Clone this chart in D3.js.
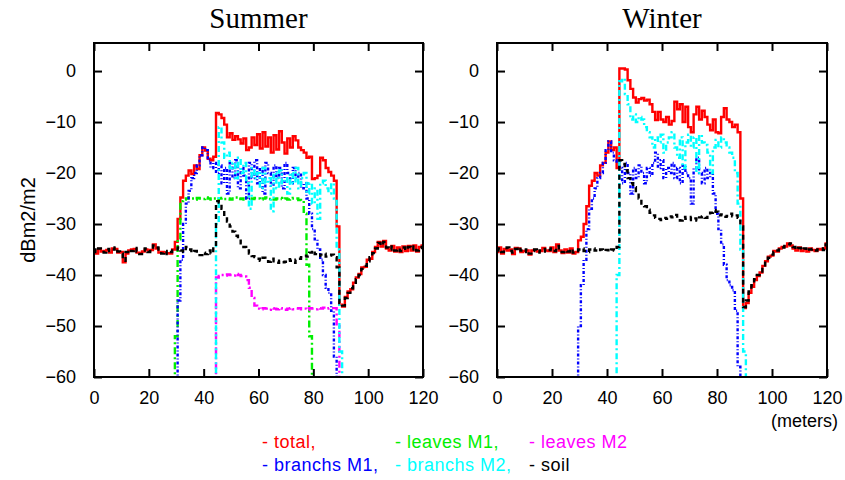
<!DOCTYPE html>
<html><head><meta charset="utf-8">
<script src="https://cdn.jsdelivr.net/npm/d3@7"></script>
<style>body{margin:0;background:#fff}svg{display:block}text{font-family:"Liberation Sans",Arial,sans-serif}</style>
</head><body>
<svg id="c" width="845" height="480"></svg>
<script>
// ---------------- DATA ----------------
const panelTitles = ["Summer", "Winter"];
const xTicks = [0, 20, 40, 60, 80, 100, 120];
const yTicks = [0, -10, -20, -30, -40, -50, -60];
const seriesNames = ["total", "leaves M1", "leaves M2", "branchs M1", "branchs M2", "soil"];
const legendLabels = ["- total,", "- leaves M1,", "- leaves M2", "- branchs M1,", "- branchs M2,", "- soil"];
const seriesColors = ["#ff0000", "#00ee00", "#ff00ff", "#0000ff", "#00ffff", "#000000"];

// Summer, x = 0..120 step 1
const sumTotal = [
 -35.2,-35.8,-34.9,-35.4,-35.3,-35.1,-35.6,-34.8,-34.9,-35.6,
 -35.5,-37.5,-35.8,-35.2,-35.0,-34.9,-35.6,-35.7,-35.4,-35.0,
 -35.2,-35.1,-34.0,-34.8,-35.6,-35.5,-35.6,-35.7,-35.8,-35.0,
 -33.5,-29.0,-24.8,-21.5,-20.5,-19.5,-20.2,-18.5,-19.2,-16.5,
 -15.0,-15.6,-17.2,-17.5,-16.8,-8.2,-8.5,-9.2,-10.5,-13.0,
 -12.2,-13.5,-12.8,-13.4,-14.2,-13.2,-15.5,-15.0,-13.0,-14.5,
 -12.4,-15.2,-12.0,-14.8,-13.0,-16.0,-12.6,-15.4,-11.8,-14.0,
 -16.2,-13.2,-15.0,-12.8,-13.6,-15.0,-15.5,-16.0,-17.0,-16.8,
 -21.2,-21.0,-20.5,-17.0,-17.5,-19.0,-19.8,-20.5,-21.5,-30.5,
 -45.8,-46.2,-44.3,-43.2,-42.8,-41.5,-40.5,-39.8,-38.5,-38.4,
 -37.0,-36.8,-35.5,-34.5,-33.5,-34.4,-33.3,-34.8,-35.2,-34.3,
 -35.4,-34.6,-35.5,-34.4,-35.3,-34.3,-35.2,-34.2,-35.4,-34.5,
 -34.2];
const sumSoil = [
 -35.0,-35.5,-34.8,-35.2,-35.6,-34.9,-35.3,-35.0,-34.6,-35.4,
 -35.8,-37.2,-35.5,-35.0,-35.3,-34.7,-35.4,-35.9,-35.2,-34.8,
 -35.5,-34.9,-34.2,-34.6,-35.4,-35.8,-35.3,-35.9,-35.5,-35.2,
 -35.0,-34.6,-35.2,-35.5,-34.5,-35.0,-35.6,-35.3,-35.8,-36.1,
 -35.6,-35.9,-35.2,-35.8,-34.5,-25.5,-25.8,-27.0,-28.5,-29.5,
 -30.5,-31.5,-32.3,-33.0,-33.8,-34.5,-35.2,-35.8,-36.3,-36.5,
 -36.8,-37.2,-36.6,-37.0,-37.4,-36.8,-37.3,-37.6,-37.2,-37.5,
 -37.4,-36.9,-37.2,-37.6,-37.0,-36.8,-36.5,-36.2,-36.4,-35.6,
 -35.2,-35.9,-36.3,-36.0,-35.8,-36.4,-36.2,-36.0,-36.5,-38.5,
 -45.5,-46.0,-44.5,-43.5,-42.6,-41.8,-40.8,-40.0,-38.8,-38.2,
 -37.3,-36.5,-35.7,-34.8,-33.7,-34.2,-33.5,-34.6,-35.0,-34.4,
 -35.2,-34.8,-35.3,-34.6,-35.1,-34.5,-35.0,-34.4,-35.2,-34.7,
 -34.5];
// leaves M1 (summer), x = 29..80
const sumLeavesM1 = [
 -70,-52,-33,-25.5,-25.2,-25.0,-24.8,-25.0,-25.2,-24.9,
 -25.0,-25.1,-24.8,-25.0,-25.2,-25.0,-25.3,-25.0,-24.9,-25.1,
 -25.0,-25.2,-25.0,-24.8,-25.1,-25.0,-25.2,-24.9,-25.0,-25.1,
 -24.9,-25.0,-25.2,-25.0,-24.8,-25.1,-25.0,-25.2,-25.0,-24.9,
 -25.1,-25.0,-25.2,-25.0,-24.9,-25.0,-25.3,-25.5,-28,-38,
 -52,-70];
// leaves M2 (summer), x = 44..90
const sumLeavesM2 = [
 -70,-40.5,-40.2,-40.0,-40.1,-39.9,-40.0,-40.1,-39.8,-40.0,
 -40.2,-40.3,-41.0,-42.5,-44.5,-46.0,-46.6,-46.7,-46.5,-46.6,
 -46.8,-46.5,-46.6,-46.7,-46.5,-46.6,-46.8,-46.6,-46.5,-46.7,
 -46.6,-46.5,-46.7,-46.6,-46.8,-46.5,-46.6,-46.7,-46.5,-46.6,
 -46.4,-46.6,-46.5,-46.5,-46.5,-50,-70];
// branchs M1 (summer), x = 30..89
const sumBranchM1 = [
 -62,-45,-37,-30,-26,-23.5,-21,-20,-18.5,-16.5,
 -15,-15.5,-17.5,-19,-18,-20,-18.5,-22,-19,-24,
 -18,-21,-17.5,-23,-19,-20.5,-25,-18,-21,-17.5,
 -22,-19,-24,-18,-20,-22.5,-18.5,-21,-19,-23,
 -18,-20,-22,-19,-21,-20,-23,-22,-25,-28,
 -31,-33,-35,-37,-40,-42.5,-43.5,-47,-56,-68];
// branchs M2 (summer), x = 44..91
const sumBranchM2 = [
 -70,-30,-11,-14,-17,-16,-19,-18,-21,-17,
 -20,-18,-22,-27,-19,-21,-20,-23,-19,-22,
 -21,-27.5,-20,-23,-19.5,-22,-21,-24,-20,-22,
 -19,-23,-21,-20,-24,-22,-26,-23,-29,-22,
 -21.5,-23,-24,-22,-25,-35,-55,-70];

// Winter, x = 0..120 step 1
const winTotal = [
 -35.5,-34.6,-35.8,-34.9,-35.2,-35.0,-35.9,-34.7,-34.8,-35.5,
 -35.3,-35.2,-36.0,-35.2,-35.1,-35.4,-35.3,-34.7,-35.2,-35.3,
 -34.6,-35.5,-34.0,-35.2,-35.7,-35.0,-35.6,-34.8,-35.8,-35.5,
 -33.2,-32.5,-30.0,-26.5,-22.5,-21.5,-20.0,-20.5,-18.5,-18.0,
 -16.0,-13.8,-15.5,-15.0,-19.0,0.5,0.5,0.3,-1.8,-3.5,
 -5.2,-6.2,-5.5,-5.3,-5.8,-5.6,-6.5,-8.0,-9.6,-8.0,
 -9.5,-10.0,-9.0,-10.5,-9.8,-6.0,-7.5,-6.5,-10.0,-7.0,
 -11.0,-12.0,-8.5,-7.0,-9.5,-7.8,-9.0,-10.5,-11.6,-9.5,
 -12.0,-12.2,-9.0,-7.3,-9.5,-10.0,-11.0,-10.5,-12.0,-25.0,
 -46.5,-45.5,-43.5,-42.3,-41.0,-40.2,-39.5,-38.2,-37.3,-36.4,
 -36.2,-35.3,-35.4,-34.8,-34.5,-34.4,-33.8,-34.2,-34.8,-35.2,
 -34.6,-35.3,-34.9,-35.4,-34.8,-35.1,-35.3,-34.9,-35.0,-34.8,
 -33.8];
const winSoil = [
 -35.2,-34.8,-35.5,-35.0,-34.6,-35.3,-35.6,-34.9,-34.5,-35.2,
 -35.5,-35.0,-35.8,-35.3,-35.0,-35.6,-35.2,-34.9,-35.4,-35.1,
 -34.8,-35.3,-34.3,-35.0,-35.5,-35.2,-35.4,-34.9,-35.6,-35.3,
 -35.0,-34.8,-35.3,-35.5,-35.0,-34.8,-35.2,-35.4,-35.0,-35.3,
 -35.1,-35.4,-35.0,-35.2,-34.5,-17.5,-18.2,-19.5,-21.0,-22.0,
 -22.8,-24.0,-25.0,-26.0,-26.5,-27.2,-27.8,-28.3,-28.8,-29.0,
 -29.2,-28.8,-29.0,-28.5,-28.7,-28.2,-28.9,-29.3,-28.6,-29.0,
 -29.2,-28.6,-28.9,-29.3,-28.7,-28.5,-28.8,-28.2,-27.8,-27.3,
 -27.6,-28.3,-28.1,-28.6,-28.4,-28.0,-28.5,-28.3,-28.8,-30.5,
 -46.3,-45.0,-43.2,-42.0,-40.8,-40.0,-39.3,-38.5,-37.2,-36.6,
 -36.0,-35.5,-35.2,-35.0,-34.6,-34.3,-34.0,-33.8,-34.5,-35.0,
 -34.7,-35.1,-34.8,-35.3,-35.0,-34.9,-35.2,-35.0,-34.8,-35.1,
 -34.0];
// branchs M1 (winter), x = 29..89
const winBranchM1 = [
 -62,-50,-42,-37,-31,-27,-25,-23,-21,-20,
 -18,-15.5,-13.8,-16,-17.5,-18,-19,-22,-18,-20,
 -24,-19,-21,-18.5,-20,-22,-19,-20.5,-18,-16,
 -19,-17.5,-21,-19,-20,-18,-21,-19,-22,-18.5,
 -20,-21,-26,-19,-17,-20,-22,-19,-21,-20,
 -24,-28,-31,-34,-38,-41,-42,-43,-47,-58,
 -68];
// branchs M2 (winter), x = 43..91
const winBranchM2 = [
 -70,-40,-2,-1.5,-4.5,-6.5,-9.5,-8.5,-10,-9,
 -9.5,-11,-12,-13,-15,-13,-14,-12.5,-16,-14,
 -13,-12,-15,-17,-13,-19,-14,-12.5,-15,-13,
 -20,-12.5,-14,-14.5,-16,-20,-15,-13.5,-15,-13,
 -14,-15,-16,-17,-20,-26,-35,-55,-70];

// x starting positions of each series (step 1 m)
const sumStarts = [0, 29, 44, 30, 44, 0];
const winStarts = [0, null, null, 29, 43, 0];

// --------------- DRAWING ---------------
const svg = d3.select("#c");
const panels = [
  {title: panelTitles[0], x0: 94, x1: 423, series: [sumTotal, sumLeavesM1, sumLeavesM2, sumBranchM1, sumBranchM2, sumSoil], starts: sumStarts},
  {title: panelTitles[1], x0: 497, x1: 827, series: [winTotal, null, null, winBranchM1, winBranchM2, winSoil], starts: winStarts}
];
const yTop = 43, yBot = 377;
const dashes = [null, "7,3,2,3", "7,3,2,3", "3,2,1,2", "6,3,2,3", "5,4"];
const fs = "18px";

panels.forEach((p, pi) => {
  const x = d3.scaleLinear().domain([0, 120]).range([p.x0, p.x1]);
  const y = d3.scaleLinear().domain([-60, 5.5]).range([yBot, yTop]);
  const g = svg.append("g");
  const cid = "clip" + pi;
  svg.append("defs").append("clipPath").attr("id", cid)
    .append("rect").attr("x", p.x0).attr("y", yTop).attr("width", p.x1 - p.x0).attr("height", yBot - yTop);

  const line = d3.line().x(d => x(d[0])).y(d => y(d[1])).curve(d3.curveStep);
  const lg = g.append("g").attr("clip-path", `url(#${cid})`);
  p.series.forEach((vals, si) => {
    if (!vals) return;
    const st = p.starts[si];
    const pts = vals.map((v, i) => [st + i, v]);
    lg.append("path").attr("d", line(pts)).attr("fill", "none")
      .attr("stroke", seriesColors[si]).attr("stroke-width", 2.4)
      .attr("stroke-dasharray", dashes[si]);
  });

  // axes with inward ticks on four sides
  const tl = 8;
  g.append("g").attr("transform", `translate(0,${yBot})`)
    .call(d3.axisBottom(x).tickValues(xTicks).tickSizeInner(-tl).tickSizeOuter(0).tickPadding(14))
    .call(a => a.select(".domain").remove());
  g.append("g").attr("transform", `translate(0,${yTop})`)
    .call(d3.axisTop(x).tickValues(xTicks).tickSizeInner(-tl).tickSizeOuter(0).tickFormat(""))
    .call(a => a.select(".domain").remove());
  g.append("g").attr("transform", `translate(${p.x0},0)`)
    .call(d3.axisLeft(y).tickValues(yTicks).tickSizeInner(-tl).tickSizeOuter(0).tickPadding(18))
    .call(a => a.select(".domain").remove());
  g.append("g").attr("transform", `translate(${p.x1},0)`)
    .call(d3.axisRight(y).tickValues(yTicks).tickSizeInner(-tl).tickSizeOuter(0).tickFormat(""))
    .call(a => a.select(".domain").remove());
  g.selectAll(".tick line").attr("stroke", "#000").attr("stroke-width", 2);
  g.selectAll(".tick text").attr("font-size", fs).attr("fill", "#000")
    .attr("font-family", '"Liberation Sans",Arial,sans-serif');
  g.append("rect").attr("x", p.x0).attr("y", yTop).attr("width", p.x1 - p.x0).attr("height", yBot - yTop)
    .attr("fill", "none").attr("stroke", "#000").attr("stroke-width", 2);

  svg.append("text").attr("x", (p.x0 + p.x1) / 2).attr("y", 28).attr("text-anchor", "middle")
    .style("font-family", '"Liberation Serif","Times New Roman",serif')
    .attr("font-size", "29px").text(p.title);
});

svg.append("text").attr("transform", "translate(35,220) rotate(-90)").attr("text-anchor", "middle")
  .attr("font-size", "20px").text("dBm2/m2");
svg.append("text").attr("x", 838).attr("y", 427).attr("text-anchor", "end")
  .attr("font-size", "18px").text("(meters)");

const legX = [262, 395, 529], legY = [448, 471];
const legOrder = [0, 1, 2, 3, 4, 5];
legOrder.forEach((si, k) => {
  svg.append("text").attr("x", legX[k % 3]).attr("y", legY[Math.floor(k / 3)])
    .attr("font-size", "18px").attr("letter-spacing", "0.5px")
    .attr("fill", seriesColors[si]).text(legendLabels[si]);
});
</script>
</body></html>
